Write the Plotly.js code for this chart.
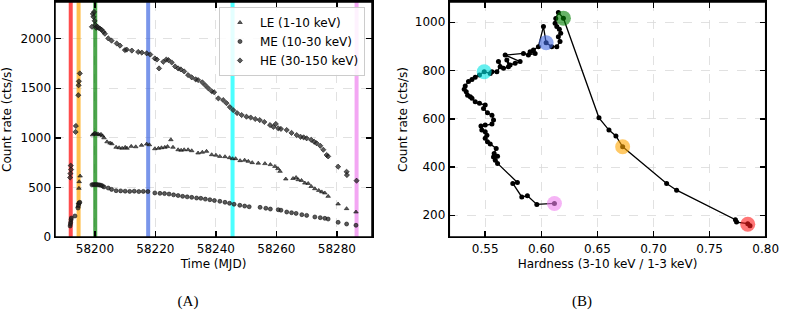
<!DOCTYPE html>
<html>
<head>
<meta charset="utf-8">
<script src="https://cdn.plot.ly/plotly-3.0.1.min.js"></script>
<style>
html,body{margin:0;padding:0;background:#fff;}
#wrap{position:relative;display:flex;width:792px;height:312px;}
#chartA,#chartB{width:396px;height:312px;}
.plab{position:absolute;top:292px;width:40px;height:18px;line-height:18px;text-align:center;font-family:'Liberation Serif',serif;font-size:15px;color:#000;}
</style>
</head>
<body>
<div id="wrap">
  <div id="chartA"></div><div id="chartB"></div>
  <div class="plab" style="left:168px">(A)</div>
  <div class="plab" style="left:562px">(B)</div>
</div>
<script>
// ---- Panel A: light curves ----
const le_t = [58194.4,58194.5,58194.7,58194.8,58195.1,58199.2,58199.6,58200.0,58200.5,58201.0,58201.5,58202.0,58202.5,58203.0,58204.0,58205.0,58205.6,58207.0,58208.0,58209.0,58210.0,58210.6,58212.0,58213.5,58215.4,58217.1,58218.0,58219.8,58221.0,58222.0,58223.1,58224.0,58225.1,58225.8,58227.5,58228.5,58229.5,58230.8,58232.0,58234.1,58235.5,58236.9,58238.6,58240.0,58241.3,58243.0,58244.5,58245.5,58246.5,58248.0,58249.5,58250.7,58252.0,58254.0,58256.2,58258.0,58259.5,58260.5,58261.2,58263.1,58265.5,58266.5,58267.2,58268.3,58269.4,58270.5,58271.5,58272.7,58274.0,58275.0,58276.0,58277.1,58280.4,58283.2,58286.3];
const le_v = [309,343,491,558,615,1030,1040,1048,1035,1040,1030,1035,1020,1000,960,947,940,905,900,895,904,895,914,910,925,937,930,890,895,900,904,912,981,905,880,875,880,880,870,847,855,864,830,825,813,810,800,790,790,770,775,763,750,745,740,730,712,690,662,585,590,600,578,570,544,540,510,487,470,455,444,410,333,286,252];

const me_t = [58191.8,58191.9,58192.0,58192.1,58192.2,58193.4,58194.4,58194.6,58194.8,58195.0,58199.0,58199.5,58200.0,58200.5,58201.0,58201.5,58202.0,58202.5,58203.0,58204.4,58205.5,58207.0,58208.5,58210.0,58211.5,58213.0,58214.5,58216.0,58217.5,58219.8,58221.5,58223.0,58224.5,58226.0,58227.5,58229.0,58230.5,58232.0,58233.6,58235.0,58236.5,58238.0,58239.5,58241.3,58243.0,58244.5,58246.0,58247.9,58249.5,58251.0,58254.6,58256.5,58258.0,58260.6,58261.5,58263.4,58265.0,58266.5,58268.4,58270.0,58272.7,58274.5,58276.0,58277.1,58280.4,58283.2,58286.3];
const me_v = [111,130,150,175,191,212,292,320,343,350,527,530,528,530,527,525,522,515,505,494,480,467,465,462,460,462,458,460,458,444,440,438,433,425,418,410,405,400,393,390,382,376,368,360,350,340,330,320,312,305,299,290,282,275,270,252,245,238,225,218,202,195,188,181,148,131,118];

const he_t = [58191.8,58191.9,58192.0,58192.1,58193.6,58193.7,58194.5,58194.6,58194.7,58195.0,58199.0,58199.3,58199.5,58199.7,58199.9,58200.1,58200.4,58200.8,58201.2,58201.7,58202.2,58202.8,58203.3,58204.4,58205.5,58207.2,58208.3,58209.9,58210.5,58212.2,58214.3,58215.5,58217.1,58218.3,58219.8,58220.5,58221.2,58222.6,58223.6,58224.3,58225.4,58226.5,58227.5,58228.4,58229.5,58230.8,58232.0,58233.3,58234.1,58235.5,58236.5,58237.5,58238.6,58239.4,58240.8,58242.4,58243.5,58244.6,58245.7,58247.0,58248.5,58250.1,58251.5,58253.0,58254.5,58256.0,58257.9,58259.0,58259.8,58260.6,58261.5,58263.4,58265.0,58266.7,58268.0,58269.0,58270.0,58271.5,58272.5,58273.3,58274.5,58275.5,58276.6,58277.1,58280.4,58283.2,58283.3,58286.5];
const he_v = [600,640,720,680,1060,1120,1430,1530,1570,1650,2120,2250,2220,2270,2180,2140,2110,2120,2110,2100,2090,2070,2050,2003,1980,1952,1930,1885,1890,1880,1866,1860,1852,1840,1801,1790,1700,1767,1790,1784,1760,1720,1700,1690,1670,1633,1610,1590,1583,1560,1530,1499,1470,1460,1398,1381,1350,1310,1280,1250,1230,1213,1205,1190,1179,1160,1129,1110,1140,1096,1090,1079,1050,1028,1010,1005,995,980,960,945,920,880,827,813,709,658,625,568];

const epoch_mjd = [58192.0,58194.6,58200.1,58217.6,58245.5,58286.5];
const epoch_colors = ['#ff0000','#ffa500','#008000','#4169e1','#00ffff','#ee82ee'];

// ---- Panel B: hardness-intensity diagram ----
const hid_h = [0.786,0.784,0.774,0.773,0.7206,0.7117,0.6725,0.6665,0.6603,0.6514,0.6197,0.6152,0.6129,0.6123,0.6138,0.6161,0.6173,0.6152,0.6167,0.6138,0.6093,0.6043,0.6019,0.5974,0.5930,0.5900,0.5945,0.5885,0.5841,0.5678,0.5811,0.5767,0.5722,0.5693,0.5707,0.5663,0.5618,0.5633,0.5604,0.5560,0.5545,0.5491,0.5449,0.5411,0.5382,0.5351,0.5322,0.5313,0.5331,0.5343,0.5367,0.5382,0.5411,0.5449,0.5500,0.5485,0.5520,0.5560,0.5574,0.5560,0.5500,0.5462,0.5470,0.5500,0.5515,0.5500,0.5520,0.5545,0.5598,0.5580,0.5610,0.5574,0.5590,0.5610,0.5787,0.5746,0.5826,0.5876,0.5960,0.6117];
const hid_c = [157,165,172,182,304,332,484,529,553,604,1017,1040,1016,996,982,971,954,940,920,899,899,915,982,899,885,878,871,864,871,864,837,830,823,844,816,809,837,816,795,795,788,795,781,772,763,754,736,722,712,698,691,685,671,664,657,643,625,615,595,578,574,570,553,546,532,519,505,495,477,456,445,442,428,415,336,332,276,281,245,249];

const mark_h = [0.784,0.6725,0.6197,0.6043,0.5491,0.6117];
const mark_c = [163,484,1017,915,795,249];
const mark_colors = ['#ff1a1a','#ffa500','#008000','#4169e1','#00e5e5','#ee82ee'];

const a_xrange = [58186.8, 58291.6];
const a_yrange = [0, 2370];
const b_xrange = [0.518, 0.80];
const b_yrange = [110, 1084];

const FONT = 'DejaVu Sans, sans-serif';
const mk = (sym) => ({symbol: sym, size: 4, color: 'rgba(35,35,35,0.75)', line: {width: 0.6, color: '#111'}});

const axBase = {
  showline: true, linecolor: '#000', linewidth: 1.5, mirror: 'ticks',
  ticks: 'inside', ticklen: 6, tickwidth: 1.5, tickcolor: '#000',
  showgrid: true, gridcolor: '#d9d9d9', griddash: 'dash', gridwidth: 0.8,
  zeroline: false, exponentformat: 'none',
  tickfont: {family: FONT, size: 12, color: '#000'}
};
const ttl = (t, s) => ({text: t, font: {family: FONT, size: 12, color: '#000'}, standoff: s});
// frame drawn on the axes' own domain (insurance for the box outline)
const frame = [{type: 'rect', xref: 'x domain', yref: 'y domain', x0: 0, x1: 1, y0: 0, y1: 1,
                line: {color: '#000', width: 1.5}, fillcolor: 'rgba(0,0,0,0)', layer: 'above'}];

// ---------- Chart A ----------
const tracesA = [];
epoch_mjd.forEach((m, i) => {
  tracesA.push({x: [m, m], y: a_yrange, mode: 'lines', type: 'scatter', showlegend: false,
    line: {color: epoch_colors[i], width: 4}, opacity: 0.7});
});
tracesA.push(
  {x: le_t, y: le_v, mode: 'markers', type: 'scatter', name: 'LE (1-10 keV)', marker: mk('triangle-up')},
  {x: me_t, y: me_v, mode: 'markers', type: 'scatter', name: 'ME (10-30 keV)', marker: mk('circle')},
  {x: he_t, y: he_v, mode: 'markers', type: 'scatter', name: 'HE (30-150 keV)', marker: mk('diamond')}
);
const layoutA = {
  width: 396, height: 312,
  margin: {l: 0, r: 0, t: 0, b: 0},
  xaxis: Object.assign({}, axBase, {domain: [0.1389, 0.9394], range: a_xrange, dtick: 20, tick0: 58200, tickformat: 'd', title: ttl('Time (MJD)', 4)}),
  yaxis: Object.assign({}, axBase, {domain: [0.2404, 0.9936], range: a_yrange, dtick: 500, tickformat: 'd', title: ttl('Count rate (cts/s)', 6)}),
  legend: {x: 0.9217, xanchor: 'right', y: 0.9776, yanchor: 'top', bgcolor: 'rgba(255,255,255,0.85)',
           bordercolor: '#cccccc', borderwidth: 1, font: {family: FONT, size: 12, color: '#000'}},
  shapes: frame
};

// ---------- Chart B ----------
const tracesB = [
  {x: hid_h, y: hid_c, mode: 'lines+markers', type: 'scatter', showlegend: false,
   line: {color: '#000', width: 1.3}, marker: {size: 5, color: '#000'}},
  {x: mark_h, y: mark_c, mode: 'markers', type: 'scatter', showlegend: false,
   marker: {size: 15, color: mark_colors, opacity: 0.6}}
];
const layoutB = {
  width: 396, height: 312,
  margin: {l: 0, r: 0, t: 0, b: 0},
  xaxis: Object.assign({}, axBase, {domain: [0.1346, 0.9336], range: b_xrange, dtick: 0.05, tick0: 0.5, tickformat: '.2f', title: ttl('Hardness (3-10 keV / 1-3 keV)', 4)}),
  yaxis: Object.assign({}, axBase, {domain: [0.2404, 0.9936], range: b_yrange, dtick: 200, tickformat: 'd', title: ttl('Count rate (cts/s)', 6)}),
  shapes: frame
};

Plotly.newPlot('chartA', tracesA, layoutA, {staticPlot: true});
Plotly.newPlot('chartB', tracesB, layoutB, {staticPlot: true});
</script>
</body>
</html>
